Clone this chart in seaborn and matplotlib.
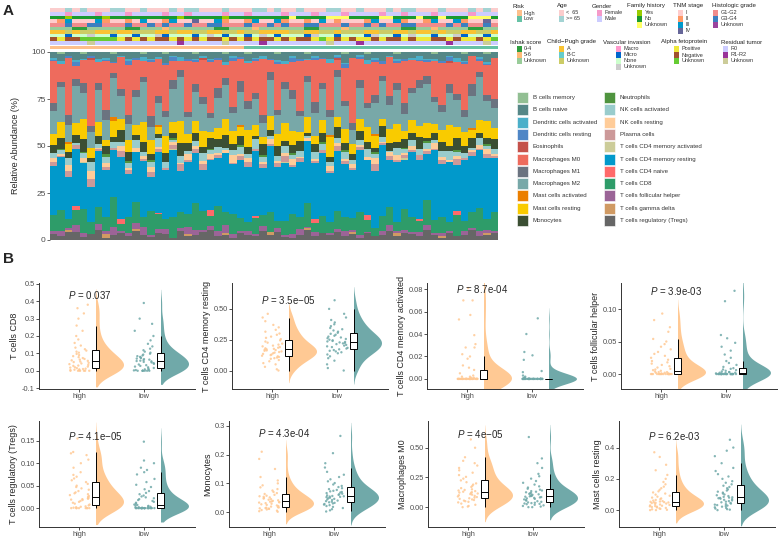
import numpy as np
import pandas as pd
import seaborn as sns
import matplotlib.pyplot as plt
from matplotlib.colors import ListedColormap
from matplotlib.patches import Rectangle

sns.set_theme(style='ticks')
plt.rcParams['font.family'] = ['Liberation Sans', 'DejaVu Sans']
plt.rcParams['mathtext.fontset'] = 'custom'
plt.rcParams['mathtext.it'] = 'Liberation Sans:italic'
plt.rcParams['mathtext.rm'] = 'Liberation Sans'

# ---------------- panel A data (60 samples, read at reduced resolution) ----------------
cell_types = ['B cells memory', 'B cells naive', 'Dendritic cells activated', 'Dendritic cells resting',
              'Eosinophils', 'Macrophages M0', 'Macrophages M1', 'Macrophages M2',
              'Mast cells activated', 'Mast cells resting', 'Monocytes', 'Neutrophils',
              'NK cells activated', 'NK cells resting', 'Plasma cells', 'T cells CD4 memory activated',
              'T cells CD4 memory resting', 'T cells CD4 naive', 'T cells CD8', 'T cells follicular helper',
              'T cells gamma delta', 'T cells regulatory (Tregs)']
cell_colors = ['#92BF93', '#558787', '#4BAFC9', '#4F86C6', '#C4514A', '#EE6B5D', '#6B7380', '#78A8A8',
               '#EB7F00', '#F9CB00', '#3B4F33', '#4F943F', '#99CCCC', '#FFCC99', '#CC9999', '#CCCC99',
               '#0199CB', '#FF6A6A', '#2E9C69', '#9B6497', '#D09A63', '#666666']

b_mem = [0,1,0,0,1,0,0,0,1,0, 0,0,1,0,0,1,0,0,0,1, 0,0,0,1,0,0,1,0,0,0,
         1,0,0,0,1,0,0,0,0,1, 0,0,1,0,0,0,1,0,0,0, 0,1,0,0,0,1,0,0,1,0]
b_naive = [3,4,2,5,3,2,4,3,5,2, 4,3,2,4,3,5,2,3,4,3, 2,4,3,5,2,3,4,3,2,4,
           3,5,2,4,3,2,3,4,2,5, 3,2,4,3,5,2,3,4,3,2, 4,3,5,2,3,4,2,3,5,3]
dc_act = [1,2,0,1,1,0,2,1,0,1, 1,0,2,1,1,0,1,2,0,1, 1,1,0,2,1,0,1,1,2,0,
          1,2,1,0,1,1,0,2,1,1, 0,1,2,1,0,1,1,0,1,2, 1,1,0,1,2,1,0,1,1,0]
dc_rest = [1,0,1,2,0,1,0,1,1,0, 2,1,0,1,0,1,2,0,1,1, 0,1,1,0,2,1,0,1,0,1,
           1,0,2,1,0,1,1,0,1,2, 0,1,0,1,2,0,1,1,0,1, 1,0,1,2,0,1,0,1,1,0]
eos = [0,0,0,0,0,1,0,0,0,0, 0,0,0,0,0,0,0,0,0,0, 1,0,0,0,0,0,0,0,0,0,
       0,0,0,0,0,0,0,0,1,0, 0,0,0,0,0,0,0,0,0,0, 0,0,0,1,0,0,0,0,0,0]
m0 = [22,10,30,8,14,34,12,26,6,18, 28,16,9,32,20,24,11,5,27,13, 19,30,15,8,25,12,21,17,31,7,
      24,10,14,28,9,22,13,26,6,19, 33,12,23,16,7,21,11,25,15,10, 8,20,24,12,17,27,14,6,18,22]
m1 = [4,3,5,4,6,3,4,5,3,4, 5,4,3,6,4,3,5,4,3,5, 4,3,5,4,3,6,4,3,4,5,
      3,4,5,3,4,6,3,4,5,3, 4,5,3,4,3,5,4,6,3,4, 5,3,4,5,3,4,6,3,4,5]
m2 = [12,20,9,22,16,8,18,11,24,13, 9,15,22,8,12,10,19,25,9,17, 14,8,16,21,10,18,12,14,8,22,
      10,20,16,9,21,12,17,10,25,13, 7,18,11,15,22,13,19,10,14,20, 23,12,10,18,14,9,16,24,12,11]
mast_act = [0,0,1,0,0,0,0,0,2,0, 0,0,0,0,1,0,0,0,0,0, 0,0,0,0,0,1,0,0,0,0,
            0,0,0,0,0,0,0,1,0,0, 0,0,0,1,0,0,0,0,0,0, 0,0,0,0,0,0,1,0,0,0]
mast_rest = [6,9,4,7,12,5,8,3,10,6, 7,5,11,8,4,9,6,13,5,7, 8,4,6,10,7,5,9,6,4,8,
             6,10,7,5,9,4,7,11,6,8, 5,7,9,6,4,8,10,5,7,6, 9,5,7,12,6,8,4,7,10,6]
mono = [4,6,3,5,8,2,5,4,3,7, 5,3,6,4,2,5,3,7,4,5, 3,6,4,8,3,5,4,2,6,4,
        5,3,4,6,2,4,5,3,7,4, 3,5,4,2,6,4,3,5,4,6, 2,4,5,3,6,4,5,3,4,5]
neutro = [0,1,0,0,1,0,0,2,0,0, 1,0,0,1,0,0,1,0,0,0, 0,1,0,0,0,1,0,0,1,0,
          0,0,1,0,0,0,1,0,0,1, 0,0,0,1,0,0,0,1,0,0, 1,0,0,0,1,0,0,0,1,0]
nk_act = [3,2,4,1,3,5,2,3,4,2, 3,4,2,3,5,3,1,4,2,3, 4,2,3,1,3,4,2,5,3,2,
          3,4,2,3,1,4,3,2,3,4, 2,3,5,2,3,1,4,2,3,3, 4,2,3,5,2,3,1,4,2,3]
nk_rest = [2,1,3,0,2,4,1,2,0,3, 1,2,2,3,1,0,2,1,3,2, 2,3,1,2,4,1,2,0,1,3,
           1,2,3,1,2,1,0,3,2,1, 2,1,2,3,1,2,3,1,2,0, 1,3,2,1,2,0,1,2,3,1]
plasma = [2,1,3,2,0,4,1,2,1,3, 2,0,1,3,2,1,2,4,1,2, 3,1,2,0,1,2,3,1,2,1,
          2,3,1,2,0,1,2,1,3,2, 1,2,0,3,1,2,1,2,1,3, 2,1,2,0,3,1,2,1,2,1]
cd4_mem_act = [0,0,0,0,1,0,0,0,0,0, 0,0,0,0,0,0,1,0,0,0, 0,0,0,0,0,0,0,0,0,0,
               0,1,0,0,0,0,0,0,0,0, 0,0,0,0,0,0,0,1,0,0, 0,0,0,0,0,0,0,0,0,0]
cd4_mem_rest = [26,30,22,34,28,18,32,25,29,35, 24,27,31,20,33,26,38,23,28,30, 21,29,25,36,27,32,30,35,26,40,
                28,33,24,31,37,29,34,27,38,30, 25,36,32,28,41,26,33,29,35,31, 27,39,30,34,24,36,28,32,37,29]
cd4_naive = [0,0,0,2,0,0,0,0,0,3, 0,0,0,0,1,0,0,0,0,0, 0,4,0,0,0,0,0,1,0,0,
             0,0,0,0,0,2,0,0,0,0, 0,0,3,0,0,0,0,0,0,1, 0,0,0,0,2,0,0,0,0,0]
cd8 = [8,12,5,9,15,6,10,7,18,4, 9,11,6,14,8,5,12,9,7,16, 10,6,13,8,11,7,5,9,6,12,
       4,8,10,7,14,5,9,6,11,8, 6,13,7,4,9,10,5,12,8,6, 15,7,9,5,11,6,8,13,7,10]
tfh = [2,3,1,4,2,0,3,2,5,1, 2,3,4,1,2,3,0,2,4,3, 1,2,3,5,2,1,2,1,3,0,
       2,1,2,3,1,2,0,1,2,3, 1,2,1,0,2,3,1,2,1,2, 3,1,2,1,0,2,1,3,2,1]
tgd = [0,0,1,0,0,0,0,2,0,0, 0,1,0,0,0,0,0,0,1,0, 0,0,0,1,0,0,0,0,0,2,
       0,0,0,0,1,0,0,0,0,0, 1,0,0,0,0,0,2,0,0,0, 0,0,1,0,0,0,0,0,1,0]
tregs = [3,2,4,5,2,3,6,1,3,4, 2,5,3,2,4,3,1,5,2,3, 4,6,2,3,1,4,3,2,5,3,
         4,2,1,3,6,2,4,3,5,2, 3,1,4,2,3,5,2,4,3,2, 6,3,1,4,2,3,5,2,3,4]

fractions = [b_mem, b_naive, dc_act, dc_rest, eos, m0, m1, m2, mast_act, mast_rest, mono, neutro,
             nk_act, nk_rest, plasma, cd4_mem_act, cd4_mem_rest, cd4_naive, cd8, tfh, tgd, tregs]

# clinical annotation tracks (one code per sample)
risk = '00000000000000000000000000' + '1111111111111111111111111111111111'
age = '0010100011' '0010001011' '0001000110' '1001000110' '0100010110' '0010001010'
gender = '1101110111' '0111101101' '1110110111' '1011101110' '1111011011' '1011110111'
family = '1101111011' '1111111011' '1110111111' '1121111222' '1111221112' '1121112221'
tnm = '0120002100' '1020012003' '0021001200' '2100102010' '0012002100' '1200210030'
grade = '0010011000' '1001010010' '0110001001' '0100110001' '0010100110' '0001010010'
ishak = '2220022222' '0022212222' '2200222122' '2222002221' '2222222002' '2122220022'
child = '0020220020' '0222002002' '2002202200' '0022002202' '2200220020' '0202200220'
vascular = '2212232212' '2122312221' '2321221232' '1222132212' '2213221232' '2122312212'
afp = '1011222220' '1010110101' '0110101011' '0101102010' '1001011010' '0110100102'
residual = '0000020000' '0000000100' '0002000010' '0000000200' '0100000000' '0001000020'

ann_tracks = [
    ('Risk', ['High', 'Low'], ['#FDBF8B', '#66C2A5'], risk),
    ('Age', ['<  65', '>= 65'], ['#FBCDCD', '#A3D3D3'], age),
    ('Gender', ['Female', 'Male'], ['#F59AC9', '#CCCCFF'], gender),
    ('Family history', ['Yes', 'No', 'Unknown'], ['#99CC00', '#1A9A30', '#FFFF66'], family),
    ('TNM stage', ['I', 'II', 'III', 'IV'], ['#FFCCCC', '#FF9966', '#0099CC', '#666699'], tnm),
    ('Histologic grade', ['G1-G2', 'G3-G4', 'Unknown'], ['#F08C8C', '#3C7FBF', '#9B449E'], grade),
    ('Ishak score', ['0-4', '5-6', 'Unknown'], ['#2E9E3E', '#FFBB77', '#99CC99'], ishak),
    ('Child\u2212Pugh grade', ['A', 'B-C', 'Unknown'], ['#F9C333', '#66CCCC', '#CCCC66'], child),
    ('Vascular invasion', ['Macro', 'Micro', 'None', 'Unknown'], ['#FF99CC', '#0066CC', '#CCFFCC', '#CCCCCC'], vascular),
    ('Alpha fetoprotein', ['Positive', 'Negative', 'Unknown'], ['#EEE83A', '#A0522D', '#66CC33'], afp),
    ('Residual tumor', ['R0', 'R1-R2', 'Unknown'], ['#CCCCFF', '#993399', '#CCCC99'], residual),
]

# ---------------- panel B data ----------------
cd8_high = [0, 0, 0, 0, 0, 0, 0.002, 0.004, 0.006, 0.008, 0.01, 0.012, 0.015, 0.018, 0.02, 0.024, 0.028,
            0.03, 0.034, 0.038, 0.042, 0.046, 0.05, 0.053, 0.057, 0.06, 0.064, 0.068, 0.073, 0.078, 0.084,
            0.09, 0.097, 0.104, 0.11, 0.116, 0.124, 0.133, 0.145, 0.16, 0.18, 0.2, 0.23, 0.26, 0.30, 0.33,
            0.36, 0.38]
cd8_low = [0, 0, 0, 0, 0, 0, 0, 0.002, 0.004, 0.006, 0.008, 0.012, 0.016, 0.02, 0.024, 0.028, 0.032, 0.036,
           0.04, 0.044, 0.048, 0.051, 0.054, 0.056, 0.058, 0.061, 0.064, 0.067, 0.07, 0.073, 0.076, 0.08,
           0.084, 0.088, 0.093, 0.098, 0.104, 0.11, 0.118, 0.127, 0.14, 0.155, 0.175, 0.2, 0.23, 0.27, 0.30,
           0.39]
cd4r_high = [0, 0.01, 0.03, 0.05, 0.06, 0.075, 0.085, 0.095, 0.1, 0.105, 0.11, 0.115, 0.12, 0.125, 0.13,
             0.135, 0.14, 0.145, 0.15, 0.155, 0.16, 0.163, 0.166, 0.169, 0.172, 0.176, 0.18, 0.185, 0.19,
             0.196, 0.202, 0.21, 0.218, 0.226, 0.235, 0.245, 0.255, 0.265, 0.275, 0.29, 0.30, 0.315, 0.33,
             0.35, 0.37, 0.4, 0.43, 0.46]
cd4r_low = [0, 0.02, 0.05, 0.08, 0.1, 0.115, 0.13, 0.14, 0.148, 0.155, 0.16, 0.166, 0.172, 0.178, 0.184,
            0.19, 0.196, 0.202, 0.208, 0.214, 0.22, 0.224, 0.228, 0.232, 0.236, 0.24, 0.245, 0.25, 0.256,
            0.262, 0.268, 0.275, 0.282, 0.29, 0.298, 0.306, 0.315, 0.325, 0.335, 0.345, 0.36, 0.375, 0.39,
            0.41, 0.43, 0.46, 0.5, 0.57]
cd4a_high = [0, 0, 0, 0, 0, 0, 0, 0, 0, 0, 0, 0, 0, 0, 0, 0, 0, 0, 0, 0, 0, 0, 0, 0, 0, 0, 0, 0, 0, 0,
             0, 0, 0, 0, 0, 0, 0.001, 0.001, 0.002, 0.002, 0.003, 0.005, 0.008, 0.01, 0.012, 0.018, 0.02,
             0.022, 0.028, 0.028, 0.031, 0.039, 0.053, 0.057, 0.07, 0.07, 0.081]
cd4a_low = [0, 0, 0, 0, 0, 0, 0, 0, 0, 0, 0, 0, 0, 0, 0, 0, 0, 0, 0, 0, 0, 0, 0, 0, 0, 0, 0, 0, 0, 0,
            0, 0, 0, 0, 0, 0, 0, 0, 0, 0, 0.001, 0.001, 0.002, 0.003, 0.006, 0.007, 0.017, 0.021, 0.024,
            0.04, 0.054]
tfh_high = [0, 0, 0, 0, 0, 0, 0, 0, 0, 0, 0, 0, 0, 0, 0, 0, 0, 0, 0.001, 0.001, 0.002, 0.002, 0.003,
            0.003, 0.004, 0.005, 0.006, 0.007, 0.008, 0.01, 0.012, 0.014, 0.016, 0.018, 0.02, 0.022, 0.025,
            0.028, 0.031, 0.034, 0.038, 0.042, 0.046, 0.05, 0.054, 0.065, 0.072, 0.083, 0.093]
tfh_low = [0, 0, 0, 0, 0, 0, 0, 0, 0, 0, 0, 0, 0, 0, 0, 0, 0, 0, 0, 0, 0, 0, 0, 0, 0.001, 0.001, 0.001,
           0.001, 0.002, 0.002, 0.003, 0.003, 0.004, 0.005, 0.006, 0.007, 0.008, 0.009, 0.011, 0.014, 0.017,
           0.02, 0.025, 0.03, 0.036, 0.042, 0.048, 0.055, 0.06, 0.112, 0.128]
treg_high = [0, 0, 0, 0, 0, 0, 0, 0, 0.001, 0.002, 0.003, 0.004, 0.006, 0.008, 0.01, 0.012, 0.014, 0.016,
             0.018, 0.019, 0.02, 0.021, 0.022, 0.023, 0.025, 0.027, 0.029, 0.031, 0.033, 0.035, 0.038, 0.041,
             0.044, 0.047, 0.05, 0.054, 0.058, 0.062, 0.066, 0.07, 0.074, 0.08, 0.09, 0.1, 0.108, 0.118,
             0.122, 0.125, 0.155]
treg_low = [0, 0, 0, 0, 0, 0, 0, 0, 0, 0, 0, 0, 0, 0, 0, 0, 0, 0, 0, 0, 0.001, 0.002, 0.002, 0.003, 0.004,
            0.005, 0.006, 0.007, 0.008, 0.01, 0.012, 0.014, 0.016, 0.018, 0.02, 0.022, 0.024, 0.026, 0.028,
            0.031, 0.034, 0.038, 0.042, 0.047, 0.052, 0.058, 0.065, 0.075, 0.08, 0.085, 0.09, 0.1, 0.106,
            0.148]
mono_high = [0.001, 0.003, 0.005, 0.007, 0.009, 0.011, 0.012, 0.013, 0.014, 0.015, 0.016, 0.017, 0.019,
             0.021, 0.023, 0.025, 0.027, 0.029, 0.031, 0.033, 0.034, 0.035, 0.036, 0.037, 0.039, 0.041,
             0.043, 0.045, 0.047, 0.049, 0.051, 0.053, 0.055, 0.057, 0.06, 0.063, 0.066, 0.07, 0.075, 0.08,
             0.086, 0.093, 0.1, 0.11, 0.122, 0.15, 0.185, 0.21]
mono_low = [0.002, 0.006, 0.01, 0.014, 0.018, 0.021, 0.024, 0.026, 0.028, 0.03, 0.032, 0.034, 0.036, 0.038,
            0.04, 0.042, 0.044, 0.046, 0.048, 0.05, 0.052, 0.053, 0.054, 0.055, 0.056, 0.058, 0.06, 0.062,
            0.064, 0.066, 0.068, 0.07, 0.072, 0.074, 0.077, 0.08, 0.083, 0.087, 0.091, 0.096, 0.101, 0.107,
            0.114, 0.122, 0.13, 0.14, 0.155, 0.17, 0.205, 0.265]
m0_high = [0, 0.005, 0.01, 0.02, 0.03, 0.04, 0.045, 0.05, 0.055, 0.06, 0.065, 0.07, 0.075, 0.08, 0.085,
           0.09, 0.095, 0.1, 0.105, 0.11, 0.115, 0.12, 0.123, 0.126, 0.13, 0.135, 0.14, 0.145, 0.15, 0.16,
           0.17, 0.18, 0.19, 0.2, 0.21, 0.225, 0.24, 0.255, 0.27, 0.29, 0.31, 0.33, 0.35, 0.37, 0.39, 0.42,
           0.5, 0.57]
m0_low = [0, 0, 0.005, 0.01, 0.015, 0.02, 0.025, 0.028, 0.031, 0.034, 0.037, 0.04, 0.045, 0.05, 0.055, 0.06,
          0.065, 0.07, 0.074, 0.078, 0.082, 0.085, 0.088, 0.091, 0.094, 0.097, 0.1, 0.104, 0.108, 0.112,
          0.116, 0.12, 0.125, 0.13, 0.135, 0.14, 0.147, 0.155, 0.165, 0.175, 0.19, 0.205, 0.22, 0.24, 0.26,
          0.28, 0.33, 0.37, 0.41, 0.59]
mastr_high = [0, 0, 0.002, 0.005, 0.008, 0.011, 0.014, 0.017, 0.02, 0.022, 0.024, 0.026, 0.028, 0.03,
              0.033, 0.036, 0.039, 0.042, 0.045, 0.047, 0.049, 0.05, 0.051, 0.053, 0.055, 0.058, 0.061,
              0.065, 0.07, 0.075, 0.08, 0.086, 0.092, 0.099, 0.106, 0.113, 0.12, 0.13, 0.14, 0.15, 0.165,
              0.18, 0.2, 0.225, 0.255, 0.29, 0.34, 0.37]
mastr_low = [0, 0.003, 0.006, 0.01, 0.014, 0.018, 0.022, 0.026, 0.029, 0.032, 0.035, 0.038, 0.042, 0.046,
             0.05, 0.054, 0.058, 0.062, 0.066, 0.07, 0.073, 0.076, 0.078, 0.08, 0.082, 0.085, 0.09, 0.095,
             0.1, 0.106, 0.112, 0.118, 0.125, 0.132, 0.14, 0.148, 0.156, 0.165, 0.175, 0.185, 0.2, 0.215,
             0.23, 0.25, 0.27, 0.3, 0.345, 0.38, 0.4, 0.45]

group_labels = ['high', 'low']
p_texts = ['$P$ = 0.037', '$P$ = 3.5e\u221205', '$P$ = 8.7e-04', '$P$ = 3.9e-03',
           '$P$ = 4.1e\u221205', '$P$ = 4.3e-04', '$P$ = 4e\u221205', '$P$ = 6.2e-03']

W, H = 778, 540
fig = plt.figure(figsize=(W / 100, H / 100), dpi=100)


def px_axes(x0, y0, x1, y1):
    return fig.add_axes([x0 / W, 1 - y1 / H, (x1 - x0) / W, (y1 - y0) / H])


# ---------------- panel A: stacked bars ----------------
frac = np.array(fractions, dtype=float)
pct = frac / frac.sum(axis=0) * 100
n_samp = pct.shape[1]

axA = px_axes(50, 52, 498, 240)
bottom = np.zeros(n_samp)
for i in range(len(cell_types) - 1, -1, -1):
    axA.bar(np.arange(n_samp), pct[i], bottom=bottom, width=1.0, color=cell_colors[i], linewidth=0)
    bottom += pct[i]
axA.set_xlim(-0.5, n_samp - 0.5)
axA.set_ylim(0, 100)
axA.set_yticks([0, 25, 50, 75, 100])
axA.set_xticks([])
for s in axA.spines.values():
    s.set_visible(False)
axA.tick_params(axis='y', length=2, width=0.6, labelsize=6, labelcolor='#4D4D4D', color='#4D4D4D', pad=1)
axA.set_ylabel('Relative Abundance (%)', fontsize=6.5, labelpad=8)

# annotation tracks via heatmap
palette, rows = [], []
for name, levels, cols, codes in ann_tracks:
    off = len(palette)
    palette += cols
    rows.append([off + int(c) for c in codes])
cmap = ListedColormap(palette)
axR = px_axes(50, 46.3, 498, 49.2)
sns.heatmap(np.array(rows[:1]), cmap=cmap, vmin=-0.5, vmax=len(palette) - 0.5, cbar=False,
            xticklabels=False, yticklabels=False, ax=axR)
axT = px_axes(50, 8.3, 498, 44.7)
sns.heatmap(np.array(rows[1:]), cmap=cmap, vmin=-0.5, vmax=len(palette) - 0.5, cbar=False,
            xticklabels=False, yticklabels=False, ax=axT)

# ---------------- panel B: raincloud plots ----------------
col_hi, col_lo = '#FFC994', '#70A9A9'
panels = [
    ('T cells CD8', cd8_high, cd8_low, [-0.1, 0, 0.1, 0.2, 0.3, 0.4, 0.5], '%.1f', (-0.105, 0.505), (39, 283), 0.89),
    ('T cells CD4 memory resting', cd4r_high, cd4r_low, [0, 0.25, 0.5], '%.2f', (-0.15, 0.71), (232, 283), 0.84),
    ('T cells CD4 memory activated', cd4a_high, cd4a_low, [0, 0.02, 0.04, 0.06, 0.08], '%.2f', (-0.009, 0.0855), (427, 283), 0.945),
    ('T cells follicular helper', tfh_high, tfh_low, [0, 0.05, 0.1], '%.2f', (-0.023, 0.14), (621, 283), 0.92),
    ('T cells regulatory (Tregs)', treg_high, treg_low, [0, 0.05, 0.1, 0.15], '%.2f', (-0.042, 0.194), (39, 421), 0.86),
    ('Monocytes', mono_high, mono_low, [0, 0.1, 0.2, 0.3], '%.1f', (-0.052, 0.317), (229, 421), 0.89),
    ('Macrophages M0', m0_high, m0_low, [0, 0.25, 0.5], '%.2f', (-0.167, 0.725), (428, 421), 0.88),
    ('Mast cells resting', mastr_high, mastr_low, [0, 0.2, 0.4], '%.1f', (-0.108, 0.57), (619, 421), 0.86),
]

np.random.seed(7)
for k, (ylab, hi, lo, yt, fmt, ylim, (x0, y0), ty) in enumerate(panels):
    ax = px_axes(x0, y0, x0 + 156, y0 + 106)
    df = pd.DataFrame({'val': hi + lo, 'grp': ['high'] * len(hi) + ['low'] * len(lo)})
    df['xc'] = df['grp'].map({'high': 0.0, 'low': 1.0})
    df['xv'] = df['xc'] + 0.25
    pal = {'high': col_hi, 'low': col_lo}

    sns.stripplot(data=df, x='xc', y='val', hue='grp', palette=pal, native_scale=True, dodge=False,
                  jitter=0.16, size=1.7, linewidth=0, alpha=0.85, legend=False, ax=ax)

    n_before = len(ax.collections)
    sns.violinplot(data=df, x='xv', y='val', hue='grp', palette=pal, native_scale=True, dodge=False,
                   inner=None, linewidth=0, width=0.86, density_norm='width', saturation=1,
                   legend=False, ax=ax)
    # keep only the right half of each violin, inside the axes
    for coll in ax.collections[n_before:]:
        verts = np.concatenate([p.vertices for p in coll.get_paths()])
        c = 0.25 if verts[:, 0].mean() < 0.75 else 1.25
        clip = Rectangle((c, ylim[0]), 1, ylim[1] - ylim[0], transform=ax.transData)
        coll.set_clip_path(clip)

    sns.boxplot(data=df, x='xv', y='val', native_scale=True, width=0.11, color='white',
                linecolor='black', linewidth=0.7, showfliers=False, showcaps=False, saturation=1, ax=ax)

    ax.set_xlim(-0.62, 1.78)
    ax.set_ylim(*ylim)
    ax.set_xticks([0, 1])
    ax.set_xticklabels(group_labels)
    ax.set_yticks(yt)
    ax.set_yticklabels([fmt % v for v in yt])
    ax.set_xlabel('')
    ax.set_ylabel(ylab, fontsize=6.5, labelpad=2)
    sns.despine(ax=ax)
    for s in ax.spines.values():
        s.set_linewidth(0.7)
        s.set_color('#333333')
    ax.tick_params(length=2, width=0.6, labelsize=5.3, labelcolor='#4D4D4D', color='#333333', pad=1)
    ax.text(-0.17, ty, p_texts[k], transform=ax.get_xaxis_transform(), fontsize=7, ha='left', va='center')

# ---------------- legends and labels (pixel overlay) ----------------
ov = fig.add_axes([0, 0, 1, 1])
ov.set_xlim(0, W)
ov.set_ylim(H, 0)
ov.axis('off')
ov.patch.set_alpha(0)

ov.text(3, 4, 'A', fontsize=11, fontweight='bold', va='top', ha='left')
ov.text(3, 252, 'B', fontsize=11, fontweight='bold', va='top', ha='left')

ann_pos = [(513, 517, 524, 6), (557, 559, 566, 6), (592, 597, 605, 6), (627, 637, 645, 6),
           (673, 678, 686, 6), (712, 713, 721, 6), (510, 517, 524, 42), (547, 559, 567, 42),
           (603, 616, 624, 42), (661, 674, 682, 42), (721, 723, 731, 42)]
for (name, levels, cols, codes), (tx, sx, lx, ty) in zip(ann_tracks, ann_pos):
    ov.text(tx, ty, name, fontsize=4.4, va='center', ha='left', color='#222222')
    for j, (lv, cl) in enumerate(zip(levels, cols)):
        yc = ty + 7 + j * 6
        ov.add_patch(Rectangle((sx, yc - 3), 5, 6, facecolor=cl, edgecolor='none'))
        ov.text(lx, yc, lv, fontsize=4, va='center', ha='left', color='#333333')

for i, (name, cl) in enumerate(zip(cell_types, cell_colors)):
    col, row = divmod(i, 11)
    sx = 517 if col == 0 else 604
    tx = 533 if col == 0 else 620
    yt = 92 + row * 12.3
    ov.add_patch(Rectangle((sx, yt), 11.5, 11, facecolor=cl, edgecolor='white', linewidth=0.4))
    ov.text(tx, yt + 5.5, name, fontsize=4.4, va='center', ha='left', color='#333333')

fig.savefig('out.png', dpi=100)
